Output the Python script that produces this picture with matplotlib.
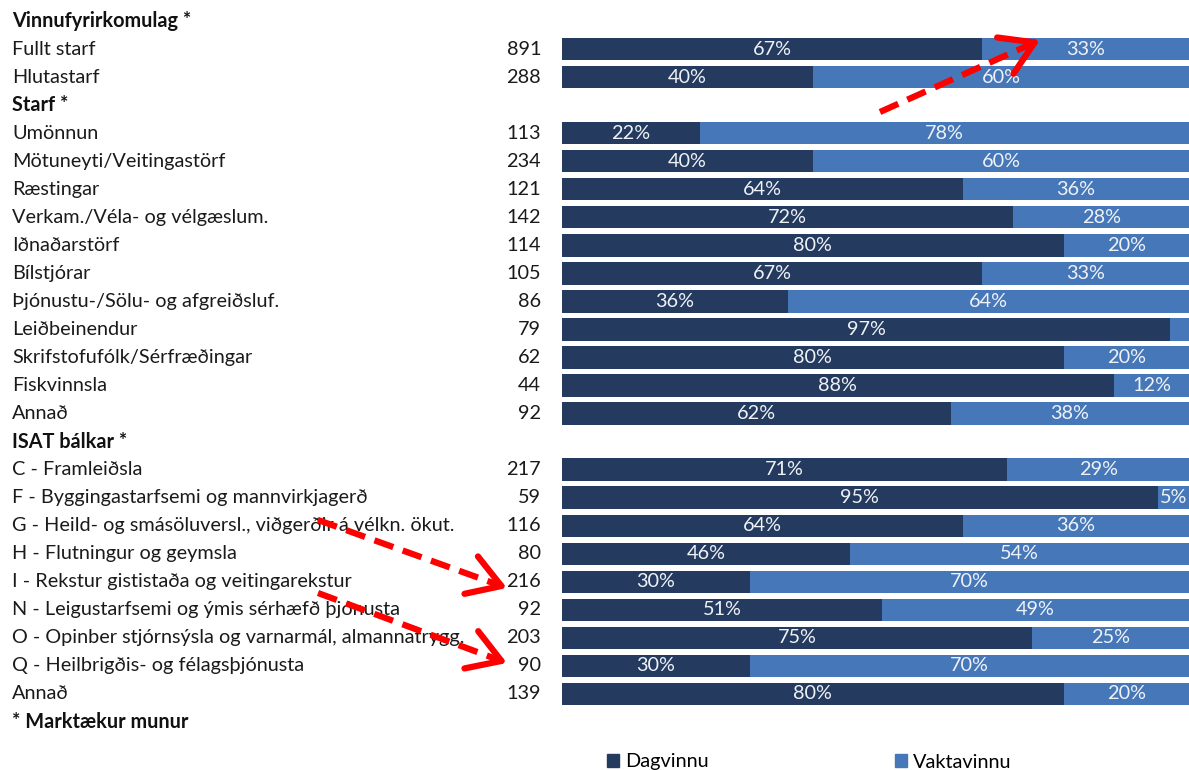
import matplotlib
matplotlib.use("Agg")
import matplotlib.pyplot as plt
from matplotlib.patches import Patch
from matplotlib.transforms import blended_transform_factory

plt.rcParams["font.family"] = ["Lato", "DejaVu Sans"]

DAG = "#243a5e"
VAKT = "#4677b8"

# rows: (label, n, dagvinnu %, vaktavinnu %); n=None marks a header
headers = ["Vinnufyrirkomulag *", "Starf *", "ISAT bálkar *"]
vinnu_labels = ["Fullt starf", "Hlutastarf"]
vinnu_n = [891, 288]
vinnu_dag = [67, 40]
vinnu_vakt = [33, 60]
starf_labels = ["Umönnun", "Mötuneyti/Veitingastörf", "Ræstingar",
                "Verkam./Véla- og vélgæslum.", "Iðnaðarstörf", "Bílstjórar",
                "Þjónustu-/Sölu- og afgreiðsluf.", "Leiðbeinendur",
                "Skrifstofufólk/Sérfræðingar", "Fiskvinnsla", "Annað"]
starf_n = [113, 234, 121, 142, 114, 105, 86, 79, 62, 44, 92]
starf_dag = [22, 40, 64, 72, 80, 67, 36, 97, 80, 88, 62]
starf_vakt = [78, 60, 36, 28, 20, 33, 64, 3, 20, 12, 38]
isat_labels = ["C - Framleiðsla", "F - Byggingastarfsemi og mannvirkjagerð",
               "G - Heild- og smásöluversl., viðgerðir á vélkn. ökut.",
               "H - Flutningur og geymsla", "I - Rekstur gististaða og veitingarekstur",
               "N - Leigustarfsemi og ýmis sérhæfð þjónusta",
               "O - Opinber stjórnsýsla og varnarmál, almannatrygg.",
               "Q - Heilbrigðis- og félagsþjónusta", "Annað"]
isat_n = [217, 59, 116, 80, 216, 92, 203, 90, 139]
isat_dag = [71, 95, 64, 46, 30, 51, 75, 30, 80]
isat_vakt = [29, 5, 36, 54, 70, 49, 25, 70, 20]
footnote = "* Marktækur munur"

groups = [(headers[0], vinnu_labels, vinnu_n, vinnu_dag, vinnu_vakt),
          (headers[1], starf_labels, starf_n, starf_dag, starf_vakt),
          (headers[2], isat_labels, isat_n, isat_dag, isat_vakt)]

W, H = 1189, 770
fig = plt.figure(figsize=(W / 100, H / 100), dpi=100)
ax = fig.add_axes([562 / W, 0, 627 / W, 1])
ax.set_xlim(0, 100)
# row i sits at pixel y = 21 + 28.04*i
pitch = 28.04
ax.set_ylim((H - 21) / pitch, -21 / pitch)
ax.axis("off")
tr = blended_transform_factory(fig.transFigure, ax.transData)

fs = 14.3
row = 0
for head, labs, ns, dag, vakt in groups:
    ax.text(12 / W, row, head, transform=tr, fontsize=fs, weight="bold",
            va="center", ha="left", color="#111111")
    row += 1
    for lab, n, d, v in zip(labs, ns, dag, vakt):
        ax.text(12 / W, row, lab, transform=tr, fontsize=fs, va="center",
                ha="left", color="#1a1a1a")
        ax.text(541 / W, row, str(n), transform=tr, fontsize=fs, va="center",
                ha="right", color="#1a1a1a")
        ax.barh(row, d, height=0.8, color=DAG)
        ax.barh(row, v, left=d, height=0.8, color=VAKT)
        ax.text(d / 2, row, f"{d}%", ha="center", va="center", color="#eef2f7",
                fontsize=fs)
        if v >= 5:
            ax.text(d + v / 2, row, f"{v}%", ha="center", va="center",
                    color="#eef2f7", fontsize=fs)
        row += 1
ax.text(12 / W, row, footnote, transform=tr, fontsize=fs, weight="bold",
        va="center", ha="left", color="#111111")

# legend
handles = [Patch(color=DAG, label="Dagvinnu"), Patch(color=VAKT, label="Vaktavinnu")]
fig.legend(handles=handles, loc="center left", bbox_to_anchor=(607 / W, 1 - 762 / H),
           ncol=2, frameon=False, fontsize=fs, handlelength=0.6, handleheight=0.6,
           handletextpad=0.3, columnspacing=9.4, borderaxespad=0, borderpad=0)

# red dashed arrows (figure pixel coords)
arrows = [((880, 112), (1040, 40)), ((318, 520), (507, 588)), ((318, 593), (507, 663))]
for (x0, y0), (x1, y1) in arrows:
    p0 = (x0 / W, 1 - y0 / H)
    p1 = (x1 / W, 1 - y1 / H)
    fig.add_artist(plt.Line2D([p0[0], p1[0] - (p1[0] - p0[0]) * 0.04],
                              [p0[1], p1[1] - (p1[1] - p0[1]) * 0.04],
                              transform=fig.transFigure, color="#ff0000", lw=4.5,
                              dashes=(3.2, 1.6)))
    pm = (p1[0] - (p1[0] - p0[0]) * 0.05, p1[1] - (p1[1] - p0[1]) * 0.05)
    ax.annotate("", xy=p1, xytext=pm, xycoords="figure fraction",
                textcoords="figure fraction",
                arrowprops=dict(arrowstyle="->,head_length=1.05,head_width=0.65",
                                color="#ff0000", lw=4.5, mutation_scale=22,
                                shrinkA=0, shrinkB=0))

fig.savefig("out.png", dpi=100)
